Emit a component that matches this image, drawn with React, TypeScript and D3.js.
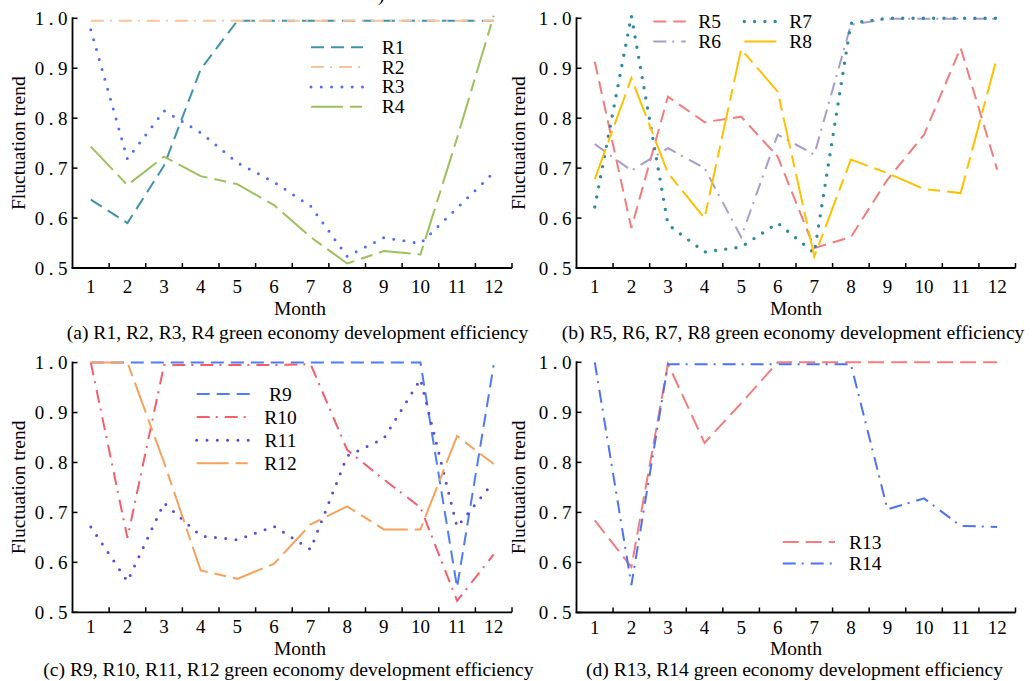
import React from 'react'
import * as d3 from 'd3'

// months on the x axis and the y ticks
const months = ['1', '2', '3', '4', '5', '6', '7', '8', '9', '10', '11', '12']
const yTicks = [0.5, 0.6, 0.7, 0.8, 0.9, 1.0]

// (a)
const r1 = [0.637, 0.59, 0.705, 0.898, 0.995, 0.995, 0.995, 0.995, 0.995, 0.995, 0.995, 0.995]
const r2 = [0.995, 0.995, 0.995, 0.995, 0.995, 0.995, 0.995, 0.995, 0.995, 0.995, 0.995, 0.995]
const r3 = [0.977, 0.718, 0.815, 0.771, 0.711, 0.672, 0.624, 0.523, 0.561, 0.549, 0.62, 0.691]
const r4 = [0.743, 0.666, 0.723, 0.684, 0.668, 0.626, 0.562, 0.509, 0.534, 0.527, 0.76, 1.005]
// (b)
const r5 = [0.913, 0.58, 0.843, 0.792, 0.803, 0.723, 0.54, 0.562, 0.677, 0.767, 0.941, 0.697]
const r6 = [0.748, 0.695, 0.74, 0.7, 0.562, 0.767, 0.727, 0.987, 0.999, 0.999, 0.999, 0.999]
const r7 = [0.622, 1.005, 0.587, 0.532, 0.542, 0.59, 0.53, 0.99, 1.0, 1.0, 1.0, 1.0]
const r8 = [0.678, 0.88, 0.69, 0.6, 0.938, 0.853, 0.523, 0.717, 0.69, 0.658, 0.65, 0.923]
// (c)
const r9 = [1.0, 1.0, 1.0, 1.0, 1.0, 1.0, 1.0, 1.0, 1.0, 1.0, 0.55, 0.995]
const r10 = [1.0, 0.649, 0.995, 0.995, 0.995, 0.995, 0.997, 0.825, 0.766, 0.71, 0.523, 0.616]
const r11 = [0.671, 0.562, 0.719, 0.653, 0.645, 0.672, 0.626, 0.813, 0.848, 0.967, 0.671, 0.761]
const r12 = [1.0, 1.0, 0.8, 0.584, 0.567, 0.597, 0.676, 0.712, 0.666, 0.666, 0.853, 0.797]
// (d)
const r13 = [0.684, 0.591, 0.997, 0.839, 0.918, 1.0, 1.0, 1.0, 1.0, 1.0, 1.0, 1.0]
const r14 = [1.0, 0.555, 0.996, 0.996, 0.996, 0.996, 0.996, 0.996, 0.706, 0.728, 0.673, 0.671]

const FONT = '"Liberation Serif", "Times New Roman", serif'

// line styles
const DASH = { dash: '13 7', width: 2, cap: 'butt' }
const DASHDOT = { dash: '13 6 2 7', width: 2, cap: 'butt' }
const DOT = { dash: '0 10.3', width: 3, cap: 'round' }
const LONG = { dash: '32 7 12 7', width: 2, cap: 'butt' }

type Series = { name: string; values: number[]; color: string; style: any; col: number; row: number }

type Legend = { lineX: number; len: number; textX: number; anchor: string; y0: number; dy: number; colDx: number }

type PanelProps = {
  left: number
  right: number
  top: number
  bottom: number
  series: Series[]
  legend: Legend
  caption: string
  captionX: number
  captionY: number
  monthX: number
  monthY: number
  titleX: number
  tickGap: number
}

function Panel(p: PanelProps) {
  const x = d3.scaleBand<string>().domain(months).range([p.left, p.right])
  const y = d3.scaleLinear().domain([0.5, 1]).range([p.bottom, p.top])
  const cx = (m: string) => (x(m) as number) + x.bandwidth() / 2
  const line = d3.line<number>().x((_, i) => cx(months[i])).y(d => y(d))
  const edges = months.slice(1).map(m => x(m) as number).concat([p.right])
  const lg = p.legend

  return (
    <g>
      {/* axes */}
      <line x1={p.left} x2={p.left} y1={y(1) - 1} y2={p.bottom} stroke="#000" strokeWidth={1.8} />
      <line x1={p.left - 1} x2={p.right} y1={p.bottom} y2={p.bottom} stroke="#000" strokeWidth={1.8} />
      {yTicks.map(t => (
        <g key={t}>
          <line x1={p.left} x2={p.left + 5} y1={y(t)} y2={y(t)} stroke="#000" strokeWidth={1.5} />
          <text x={p.left - 0.5} y={y(t)} dy="0.36em" textAnchor="end" fontSize={19} letterSpacing={4.5}>
            {t.toFixed(1)}
          </text>
        </g>
      ))}
      {edges.map((e, i) => (
        <line key={i} x1={e} x2={e} y1={p.bottom} y2={p.bottom - 5} stroke="#000" strokeWidth={1.5} />
      ))}
      {months.map(m => (
        <text key={m} x={cx(m)} y={p.bottom + p.tickGap} textAnchor="middle" fontSize={19}>
          {m}
        </text>
      ))}
      <text x={p.monthX} y={p.monthY} textAnchor="middle" fontSize={19.5}>
        Month
      </text>
      <text
        transform={`translate(${p.titleX},${(p.top + p.bottom) / 2}) rotate(-90)`}
        textAnchor="middle"
        fontSize={19.5}
      >
        Fluctuation trend
      </text>
      <text x={p.captionX} y={p.captionY} fontSize={19.6}>
        {p.caption}
      </text>

      {/* series */}
      {p.series.map(s => (
        <path
          key={s.name}
          d={line(s.values) as string}
          fill="none"
          stroke={s.color}
          strokeWidth={s.style.width}
          strokeDasharray={s.style.dash}
          strokeLinecap={s.style.cap}
        />
      ))}

      {/* legend */}
      {p.series.map(s => {
        const ly = lg.y0 + s.row * lg.dy
        const lx = lg.lineX + s.col * lg.colDx
        return (
          <g key={'lg' + s.name}>
            <line
              x1={lx}
              x2={lx + lg.len}
              y1={ly}
              y2={ly}
              stroke={s.color}
              strokeWidth={s.style.width}
              strokeDasharray={s.style.dash}
              strokeLinecap={s.style.cap}
            />
            <text x={lg.textX + s.col * lg.colDx} y={ly + 6.5} textAnchor={lg.anchor} fontSize={19.5}>
              {s.name}
            </text>
          </g>
        )
      })}
    </g>
  )
}

export default function App() {
  return (
    <div>
      <style>{'body{margin:0}'}</style>
      <svg width={1032} height={681} fontFamily={FONT} style={{ display: 'block', background: '#fff' }}>
        <text x={378} y={1} fontSize={19.5}>)</text>
        <Panel
          left={72.5}
          right={512}
          top={18.3}
          bottom={268}
          caption="(a) R1, R2, R3, R4 green economy development efficiency"
          captionX={66.7}
          captionY={339}
          monthX={300}
          monthY={315}
          titleX={24.5}
          tickGap={25}
          legend={{ lineX: 311, len: 52, textX: 381.7, anchor: 'start', y0: 47.3, dy: 19.8, colDx: 0 }}
          series={[
            { name: 'R1', values: r1, color: '#3f92a8', style: DASH, col: 0, row: 0 },
            { name: 'R2', values: r2, color: '#f9c39b', style: DASHDOT, col: 0, row: 1 },
            { name: 'R3', values: r3, color: '#4f6ef7', style: DOT, col: 0, row: 2 },
            { name: 'R4', values: r4, color: '#9dbf5d', style: LONG, col: 0, row: 3 },
          ]}
        />
        <Panel
          left={576.5}
          right={1015.5}
          top={18.3}
          bottom={268}
          caption="(b) R5, R6, R7, R8 green economy development efficiency"
          captionX={561.7}
          captionY={339}
          monthX={796}
          monthY={315}
          titleX={525}
          tickGap={25}
          legend={{ lineX: 653.3, len: 32.5, textX: 698.3, anchor: 'start', y0: 21.5, dy: 20, colDx: 91 }}
          series={[
            { name: 'R5', values: r5, color: '#f47c7c', style: DASH, col: 0, row: 0 },
            { name: 'R6', values: r6, color: '#a89ccb', style: DASHDOT, col: 0, row: 1 },
            { name: 'R7', values: r7, color: '#2f8a9c', style: { ...DOT, width: 3.4 }, col: 1, row: 0 },
            { name: 'R8', values: r8, color: '#ffc000', style: LONG, col: 1, row: 1 },
          ]}
        />
        <Panel
          left={72.5}
          right={512}
          top={362.6}
          bottom={612.3}
          caption="(c) R9, R10, R11, R12 green economy development efficiency"
          captionX={43.3}
          captionY={676.3}
          monthX={300}
          monthY={654.6}
          titleX={24.5}
          tickGap={21}
          legend={{ lineX: 196.7, len: 53.3, textX: 280.5, anchor: 'middle', y0: 394, dy: 23.1, colDx: 0 }}
          series={[
            { name: 'R9', values: r9, color: '#4f7cf5', style: DASH, col: 0, row: 0 },
            { name: 'R10', values: r10, color: '#f55d6b', style: DASHDOT, col: 0, row: 1 },
            { name: 'R11', values: r11, color: '#5a4bd8', style: DOT, col: 0, row: 2 },
            { name: 'R12', values: r12, color: '#f6a25c', style: LONG, col: 0, row: 3 },
          ]}
        />
        <Panel
          left={576.5}
          right={1015.5}
          top={362.3}
          bottom={612.5}
          caption="(d) R13, R14 green economy development efficiency"
          captionX={586}
          captionY={676.3}
          monthX={796}
          monthY={654.6}
          titleX={525}
          tickGap={21}
          legend={{ lineX: 782.7, len: 52.3, textX: 849, anchor: 'start', y0: 542, dy: 21.5, colDx: 0 }}
          series={[
            { name: 'R13', values: r13, color: '#f47c7c', style: { ...DASH, dash: '16 7' }, col: 0, row: 0 },
            { name: 'R14', values: r14, color: '#4f72f4', style: DASHDOT, col: 0, row: 1 },
          ]}
        />
      </svg>
    </div>
  )
}
